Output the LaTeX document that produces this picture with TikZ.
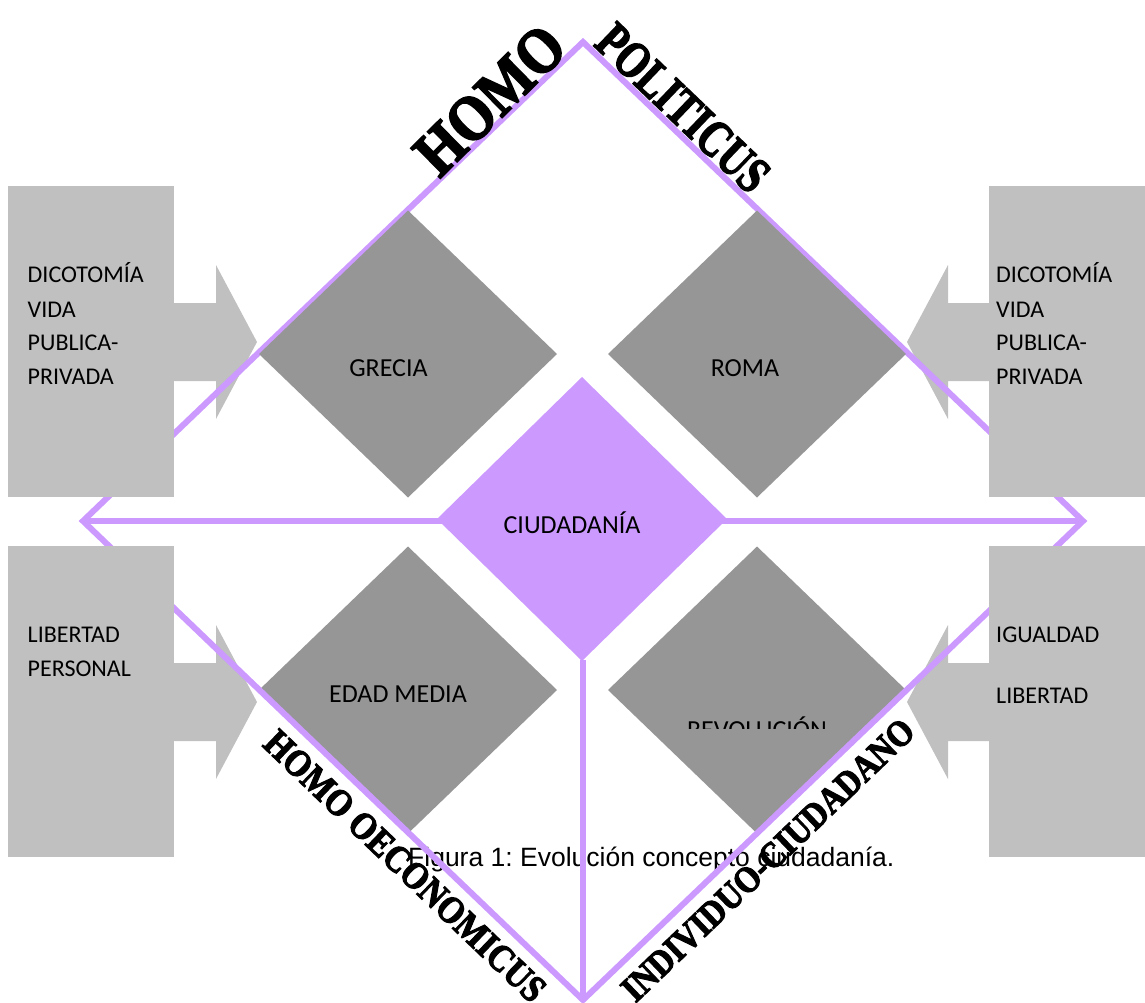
\documentclass[tikz,border=0pt]{standalone}
\usepackage{fontspec}
\setmainfont{Carlito}
\newfontfamily\edgefont[BoldFeatures={FakeBold=3}]{Liberation Serif}
\newfontfamily\capfont{Liberation Sans}
\usetikzlibrary{shapes.geometric}
\definecolor{lila}{HTML}{CC99FF}
\definecolor{boxgray}{HTML}{C0C0C0}
\definecolor{eragray}{HTML}{969696}
\frenchspacing

% heavy serif caption along a side of the frame, condensed horizontally
\newcommand{\edgeword}[3]{%
  {\edgefont\bfseries\fontsize{#1}{#1}\selectfont\scalebox{#2}[1]{#3}}}

\begin{document}
\begin{tikzpicture}[x=1pt,y=-1pt,
  frame/.style={draw=lila,line width=6pt,line join=miter},
  era/.style={diamond,fill=eragray,inner sep=0pt,outer sep=0pt,
              minimum width=298pt,minimum height=287pt},
  core/.style={diamond,fill=lila,inner sep=0pt,outer sep=0pt,
               minimum width=290pt,minimum height=284pt},
  panel/.style={fill=boxgray},
  boxtext/.style={anchor=base west,inner sep=0pt,
                  font=\fontsize{24}{28}\selectfont},
  eratext/.style={anchor=base,inner sep=0pt,
                  font=\fontsize{26}{30}\selectfont},
  edgelabel/.style={inner sep=0pt},
]
\useasboundingbox (0,0) rectangle (1145,1003);

% corners of the outer frame
\coordinate (T) at (583,42);
\coordinate (L) at (83,521);
\coordinate (R) at (1083,521);
\coordinate (B) at (583,1000);
\coordinate (coreS) at (583,660);

% arrow heads of the four side panels
\fill[panel] (170,303) -- (216,303) -- (216,265) -- (257,342) -- (216,419) -- (216,381) -- (170,381) -- cycle;
\fill[panel] (993,303) -- (948,303) -- (948,265) -- (907,342) -- (948,419) -- (948,381) -- (993,381) -- cycle;
\fill[panel] (170,663) -- (216,663) -- (216,625) -- (257,702) -- (216,779) -- (216,741) -- (170,741) -- cycle;
\fill[panel] (993,663) -- (948,663) -- (948,625) -- (907,702) -- (948,779) -- (948,741) -- (993,741) -- cycle;

% caption
\node[anchor=base west,inner sep=0pt,font=\capfont\fontsize{26.5}{30}\selectfont]
  (caption) at (408,866) {Figura 1: Evolución concepto ciudadanía.};

% lower eras
\node[era] (edad) at (408,690) {};
\node[era] (revol) at (757,690) {};

% outer frame and axes
\draw[frame] (T) -- (R) -- (B) -- (L) -- cycle;
\draw[frame] (L) -- (R);
\draw[frame] (coreS) -- (B);

% side panels
\fill[panel] (8,186) rectangle (174,497);
\fill[panel] (989,186) rectangle (1145,497);
\fill[panel] (8,546) rectangle (174,857);
\fill[panel] (989,546) rectangle (1145,857);

% upper eras and the centre
\node[era] (grecia) at (408,354) {};
\node[era] (roma) at (757,354) {};
\node[core] (ciud) at (582,519) {};

% era names
\node[eratext] (tgrecia) at (388.5,376) {GRECIA};
\node[eratext] (troma) at (745,376) {ROMA};
\node[eratext] (tciud) at (572,533) {CIUDADANÍA};
\node[eratext] (tedad) at (398,702) {EDAD MEDIA};
\begin{scope}
  \clip (600,690) rectangle (900,728);
  \node[eratext] (trevol) at (757,738) {REVOLUCIÓN};
\end{scope}

% panel texts
\node[boxtext] (a1) at (27.5,282) {DICOTOMÍA};
\node[boxtext] (a2) at (27.5,317) {VIDA};
\node[boxtext] (a3) at (27.5,350) {PUBLICA-};
\node[boxtext] (a4) at (27.5,384) {PRIVADA};
\node[boxtext] (b1) at (996,282) {DICOTOMÍA};
\node[boxtext] (b2) at (996,317) {VIDA};
\node[boxtext] (b3) at (996,350) {PUBLICA-};
\node[boxtext] (b4) at (996,384) {PRIVADA};
\node[boxtext] (c1) at (27.5,642) {LIBERTAD};
\node[boxtext] (c2) at (27.5,676) {PERSONAL};
\node[boxtext] (d1) at (996,642) {IGUALDAD};
\node[boxtext] (d2) at (996,703) {LIBERTAD};

% names of the frame sides
\node[edgelabel,rotate=44.5] (homo) at (490,100) {\edgeword{64}{0.87}{HOMO}};
\node[edgelabel,rotate=-43.77] (politicus) at (683,108) {\edgeword{52}{0.76}{POLITICUS}};
\node[edgelabel,rotate=-43.77] (oecon) at (405,866) {\edgeword{38}{0.87}{HOMO OECONOMICUS}};
\node[edgelabel,rotate=43.77] (indiv) at (768,860) {\edgeword{37}{0.87}{INDIVIDUO-CIUDADANO}};
\end{tikzpicture}
\end{document}
